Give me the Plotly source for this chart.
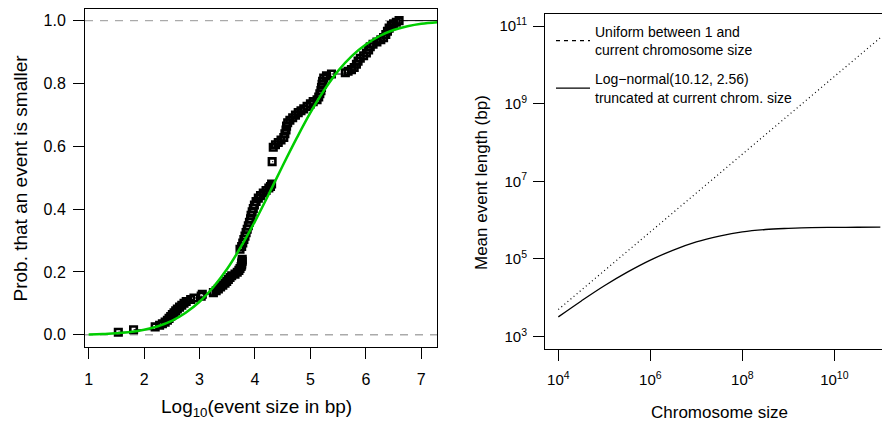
import plotly.graph_objects as go

# ---------------- Left panel data ----------------
ecdf_log10_size = [
    1.535, 1.81, 2.20, 2.28, 2.33, 2.38, 2.42, 2.45, 2.48, 2.51, 2.54, 2.57, 2.60, 2.64,
    2.68, 2.72, 2.76, 2.84, 2.90, 3.03, 3.05, 3.25, 3.30, 3.34, 3.38, 3.42, 3.46, 3.49,
    3.52, 3.55, 3.58, 3.64, 3.68, 3.71, 3.73, 3.75, 3.76, 3.76, 3.77, 3.77, 3.73, 3.76,
    3.78, 3.80, 3.82, 3.84, 3.86, 3.88, 3.90, 3.92, 3.93, 3.95, 3.97, 3.99, 4.02, 4.06,
    4.10, 4.15, 4.20, 4.25, 4.28, 4.30, 4.31, 4.33, 4.37, 4.42, 4.47, 4.52, 4.54, 4.56,
    4.57, 4.59, 4.63, 4.68, 4.73, 4.78, 4.83, 4.88, 4.94, 5.00, 5.05, 5.12, 5.15, 5.17,
    5.19, 5.20, 5.21, 5.22, 5.24, 5.29, 5.38, 5.63, 5.68, 5.74, 5.79, 5.83, 5.86, 5.90,
    5.96, 6.01, 6.05, 6.08, 6.13, 6.20, 6.27, 6.32, 6.36, 6.39, 6.42, 6.46, 6.50, 6.55,
    6.60,
]
ecdf_prob = [
    0.008, 0.016, 0.025, 0.030, 0.035, 0.040, 0.046, 0.052, 0.058, 0.064, 0.070, 0.076, 0.082, 0.088,
    0.094, 0.100, 0.106, 0.112, 0.117, 0.123, 0.129, 0.134, 0.140, 0.146, 0.152, 0.158, 0.164, 0.170,
    0.176, 0.182, 0.188, 0.193, 0.199, 0.205, 0.211, 0.217, 0.222, 0.228, 0.234, 0.240, 0.272, 0.281,
    0.292, 0.303, 0.314, 0.325, 0.336, 0.347, 0.358, 0.369, 0.380, 0.391, 0.402, 0.413, 0.424, 0.435,
    0.443, 0.451, 0.459, 0.467, 0.472, 0.480, 0.551, 0.597, 0.605, 0.612, 0.620, 0.628, 0.640, 0.652,
    0.664, 0.675, 0.683, 0.691, 0.699, 0.707, 0.713, 0.719, 0.727, 0.735, 0.742, 0.748, 0.757, 0.767,
    0.777, 0.787, 0.797, 0.807, 0.817, 0.824, 0.830, 0.834, 0.839, 0.844, 0.851, 0.861, 0.871, 0.880,
    0.888, 0.897, 0.907, 0.917, 0.925, 0.932, 0.939, 0.946, 0.956, 0.966, 0.976, 0.984, 0.990, 0.995,
    1.000,
]
fit_log10_size = [1.00, 1.25, 1.50, 1.75, 2.00, 2.25, 2.50, 2.75, 3.00, 3.25, 3.50, 3.75, 4.00,
                  4.25, 4.50, 4.75, 5.00, 5.25, 5.50, 5.75, 6.00, 6.25, 6.50, 6.75, 7.00, 7.29]
fit_prob = [0.001, 0.002, 0.005, 0.009, 0.016, 0.027, 0.044, 0.070, 0.105, 0.152, 0.210, 0.281, 0.361,
            0.448, 0.538, 0.625, 0.707, 0.779, 0.840, 0.888, 0.924, 0.951, 0.970, 0.982, 0.990, 0.995]
left_xticks = [1, 2, 3, 4, 5, 6, 7]
left_yticks = [0.0, 0.2, 0.4, 0.6, 0.8, 1.0]
LEFT_XRANGE = [0.934, 7.289]
LEFT_YRANGE = [-0.04, 1.037]

# ---------------- Right panel data ----------------
chrom_size_exp = [4.0, 4.5, 5.0, 5.5, 6.0, 6.5, 7.0, 7.5, 8.0, 8.5, 9.0, 9.5, 10.0, 10.5, 11.0]
lognormal_mean_exp = [3.51, 3.92, 4.31, 4.66, 4.97, 5.23, 5.44, 5.59, 5.70, 5.76, 5.79, 5.81, 5.815, 5.817, 5.818]
uniform_chrom_exp = [4.0, 11.0]
uniform_mean_exp = [3.699, 10.699]
right_xtick_exp = [4, 6, 8, 10]
right_ytick_exp = [3, 5, 7, 9, 11]
RIGHT_XRANGE = [3.710, 11.210]
RIGHT_YRANGE = [2.682, 11.309]

FONT = "Liberation Sans, Arial, Helvetica, sans-serif"
OFF = 8  # page body margin
W, H = 890 - OFF, 422 - OFF

def px_x(p):
    return (p - OFF) / W

def px_y(p):
    return (H - (p - OFF)) / H

fig = go.Figure()

# ECDF horizontal step segments
seg_x, seg_y = [], []
for i in range(len(ecdf_log10_size)):
    x0 = ecdf_log10_size[i]
    x1 = ecdf_log10_size[i + 1] if i + 1 < len(ecdf_log10_size) else LEFT_XRANGE[1]
    if x1 > x0:
        seg_x += [x0, x1, None]
        seg_y += [ecdf_prob[i], ecdf_prob[i], None]
fig.add_trace(go.Scatter(x=seg_x, y=seg_y, mode="lines", line=dict(color="black", width=1),
                         xaxis="x", yaxis="y", showlegend=False, hoverinfo="skip"))
fig.add_trace(go.Scatter(x=ecdf_log10_size, y=ecdf_prob, mode="markers",
                         marker=dict(symbol="square-open", size=6.5, color="black",
                                     line=dict(color="black", width=2.6)),
                         xaxis="x", yaxis="y", showlegend=False))
fig.add_trace(go.Scatter(x=fit_log10_size, y=fit_prob, mode="lines", line_shape="spline",
                         line=dict(color="#00CD00", width=2.5),
                         xaxis="x", yaxis="y", showlegend=False))

# Right panel curves
fig.add_trace(go.Scatter(x=[10 ** e for e in uniform_chrom_exp], y=[10 ** e for e in uniform_mean_exp],
                         mode="lines", line=dict(color="black", width=1.2, dash="1px,3px"),
                         xaxis="x2", yaxis="y2", showlegend=False))
fig.add_trace(go.Scatter(x=[10 ** e for e in chrom_size_exp], y=[10 ** e for e in lognormal_mean_exp],
                         mode="lines", line_shape="spline", line=dict(color="black", width=1.3),
                         xaxis="x2", yaxis="y2", showlegend=False))
# legend entries
fig.add_trace(go.Scatter(x=[None], y=[None], mode="lines",
                         line=dict(color="black", width=1.2, dash="4px,4px"),
                         name="Uniform between 1 and<br>current chromosome size",
                         xaxis="x2", yaxis="y2", legendgroup="a"))
fig.add_trace(go.Scatter(x=[None], y=[None], mode="lines",
                         line=dict(color="black", width=1.3),
                         name="Log\u2212normal(10.12, 2.56)<br>truncated at current chrom. size",
                         xaxis="x2", yaxis="y2", legendgroup="b"))

# grey dashed reference lines at 0 and 1
for yv in (0, 1):
    fig.add_shape(type="line", xref="x domain", yref="y", x0=0, x1=1, y0=yv, y1=yv,
                  line=dict(color="#aaaaaa", width=1.3, dash="8px,7px"), layer="below")

axis_common = dict(showgrid=False, zeroline=False, showline=True, linecolor="black", linewidth=1,
                   ticks="outside", ticklen=11, tickcolor="black", tickwidth=1)

fig.update_layout(
    width=W, height=H,
    margin=dict(l=0, r=0, t=0, b=0),
    paper_bgcolor="white", plot_bgcolor="white",
    font=dict(family=FONT, color="black"),
    xaxis=dict(domain=[px_x(85), px_x(437.3)], range=LEFT_XRANGE, tickvals=left_xticks,
               mirror=True, anchor="y", tickfont=dict(size=16), ticklabelstandoff=6, **axis_common),
    yaxis=dict(domain=[px_y(347.3), px_y(9)], range=LEFT_YRANGE, tickvals=left_yticks,
               tickformat=".1f", mirror=True, anchor="x", tickfont=dict(size=16), ticklabelstandoff=4,
               **axis_common),
    xaxis2=dict(domain=[px_x(545), 1.0], type="log", range=RIGHT_XRANGE,
                tickvals=[10 ** e for e in right_xtick_exp],
                ticktext=[f"10<sup>{e}</sup>" for e in right_xtick_exp],
                mirror=True, anchor="y2", tickfont=dict(size=15), ticklabelstandoff=6, **axis_common),
    yaxis2=dict(domain=[px_y(349), px_y(14)], type="log", range=RIGHT_YRANGE,
                tickvals=[10 ** e for e in right_ytick_exp],
                ticktext=[f"10<sup>{e}</sup>" for e in right_ytick_exp],
                mirror=False, anchor="x2", tickfont=dict(size=15), ticklabelstandoff=3, **axis_common),
    legend=dict(x=px_x(551), y=px_y(16), xanchor="left", yanchor="top",
                bgcolor="rgba(0,0,0,0)", font=dict(size=14, family=FONT), tracegroupgap=8,
                itemwidth=34),
    showlegend=True,
)

fig.add_annotation(text="Prob. that an event is smaller", x=px_x(19.5), y=px_y(178), xref="paper", yref="paper",
                   textangle=-90, showarrow=False, font=dict(size=19), xanchor="center", yanchor="middle")
fig.add_annotation(text="Log<sub>10</sub>(event size in bp)", x=px_x(257), y=px_y(408), xref="paper", yref="paper",
                   showarrow=False, font=dict(size=19), xanchor="center", yanchor="middle")
fig.add_annotation(text="Mean event length (bp)", x=px_x(481), y=px_y(182), xref="paper", yref="paper",
                   textangle=-90, showarrow=False, font=dict(size=17), xanchor="center", yanchor="middle")
fig.add_annotation(text="Chromosome size", x=px_x(719), y=px_y(412), xref="paper", yref="paper",
                   showarrow=False, font=dict(size=17), xanchor="center", yanchor="middle")

fig.write_html("out.html")
